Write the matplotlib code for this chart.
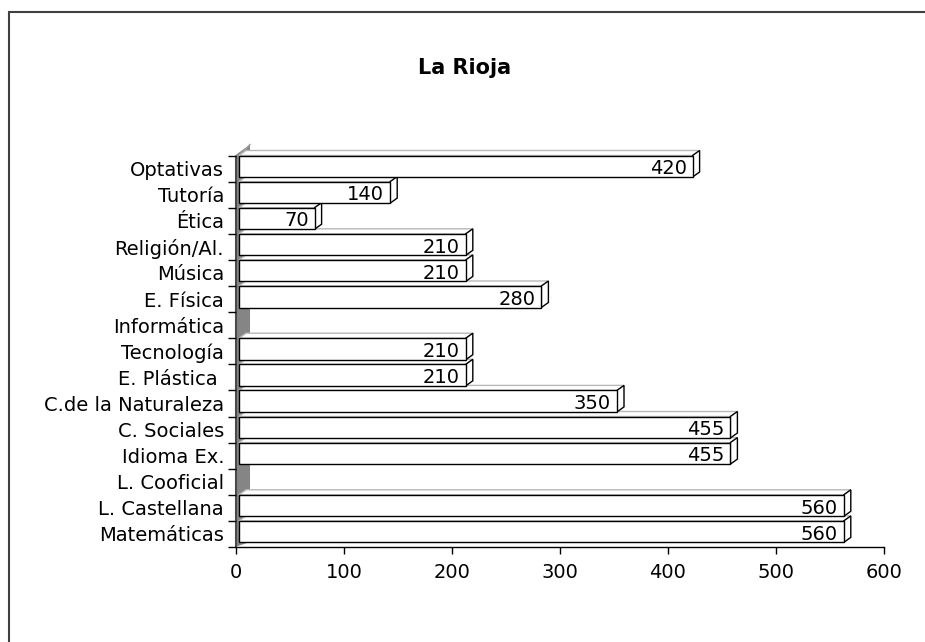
import matplotlib
matplotlib.use("Agg")
import numpy as np
import matplotlib.pyplot as plt
from matplotlib.patches import Polygon, Rectangle

# datos (de abajo hacia arriba)
subjects = ["Matemáticas", "L. Castellana", "L. Cooficial", "Idioma Ex.", "C. Sociales",
            "C.de la Naturaleza", "E. Plástica ", "Tecnología", "Informática", "E. Física",
            "Música", "Religión/Al.", "Ética", "Tutoría", "Optativas"]
hours = [560, 560, 0, 455, 455, 350, 210, 210, 0, 280, 210, 210, 70, 140, 420]
x_ticks = [0, 100, 200, 300, 400, 500, 600]
title = "La Rioja"

W, H = 925, 642
fig = plt.figure(figsize=(W / 100, H / 100), dpi=100)
ax_w, ax_h = 648, 391.5
ax = fig.add_axes([236 / W, 95 / H, ax_w / W, ax_h / H])
n = len(subjects)
ax.set_xlim(x_ticks[0], x_ticks[-1])
ax.set_ylim(-0.5, n - 0.5)

# pixel -> data units
px_x = (x_ticks[-1] - x_ticks[0]) / ax_w
px_y = n / ax_h
dx, dy = 7 * px_x, 5 * px_y
shift = 3 * px_x
front_h = 21.5 * px_y

# side wall
top = n - 0.5
wall = Polygon([(-1 * px_x, -0.5), (-1 * px_x, top), (14 * px_x, top + 11 * px_y),
                (14 * px_x, -0.5 + 5 * px_y)], closed=True, fc="#858585", ec="none",
               zorder=1, clip_on=False)
ax.add_patch(wall)
ax.plot([-0.5 * px_x, -0.5 * px_x], [-0.5, top], color="#4a4a4a", lw=1.5,
        zorder=1.5, clip_on=False, solid_capstyle="butt")
ax.plot([3 * px_x, 14 * px_x], [top, top + 11 * px_y], color="#a0a0a0", lw=1,
        zorder=1.5, clip_on=False)

ypos = np.arange(n)
for i, v in enumerate(hours):
    if v <= 0:
        continue
    y1 = ypos[i] + 0.5
    y0 = y1 - front_h
    x0, x1 = shift, v + shift
    topface = Polygon([(x0, y1), (x0 + dx, y1 + dy), (x1 + dx, y1 + dy), (x1, y1)],
                      closed=True, fc="white", ec="#b8b8b8", lw=1, zorder=2, clip_on=False)
    side = Polygon([(x1, y0), (x1, y1), (x1 + dx, y1 + dy), (x1 + dx, y0 + dy)],
                   closed=True, fc="white", ec="black", lw=1, zorder=2.5, clip_on=False)
    ax.add_patch(topface)
    ax.add_patch(side)
    ax.barh(y0 + front_h / 2, v, left=x0, height=front_h, color="white",
            edgecolor="black", linewidth=1, zorder=3, clip_on=False)
    ax.text(v - 3 * px_x, y0 + front_h / 2 - 2.5 * px_y, str(v), ha="right", va="center",
            fontsize=14, zorder=4)

ax.set_yticks(ypos)
ax.set_yticklabels(subjects, fontsize=14)
ax.tick_params(axis="y", which="major", length=0, pad=8.6)
ax.set_yticks(np.arange(-0.5, n, 1), minor=True)
ax.tick_params(axis="y", which="minor", length=5.8, width=1, direction="out")

ax.set_xticks(x_ticks)
ax.set_xticklabels([str(t) for t in x_ticks], fontsize=14)
ax.tick_params(axis="x", length=5, width=1, pad=6.5)

for s in ["top", "right", "left"]:
    ax.spines[s].set_visible(False)
ax.spines["bottom"].set_linewidth(1)
ax.patch.set_alpha(0)

fig.text(465 / W, 1 - 68 / H, title, ha="center", va="center", fontsize=15,
         fontweight="bold")

# chart border (right/bottom fall outside the picture)
fig.add_artist(Rectangle((9 / W, -0.1), 1.2, (H - 12) / H + 0.1, transform=fig.transFigure,
                         fill=False, ec="#404040", lw=1.5))

fig.savefig("out.png", dpi=100)
